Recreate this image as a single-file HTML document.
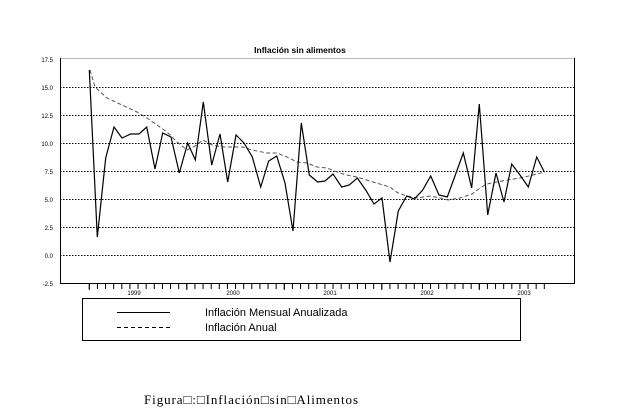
<!DOCTYPE html>
<html><head><meta charset="utf-8"><style>
html,body{margin:0;padding:0;background:#fff;}
</style></head><body>
<svg width="636" height="413" xmlns="http://www.w3.org/2000/svg" style="display:block">
<rect width="636" height="413" fill="#fff"/>
<text x="300" y="53" font-family="Liberation Sans, sans-serif" font-size="8.5" font-weight="bold" text-anchor="middle">Inflación sin alimentos</text>
<g stroke="#000" stroke-width="1" stroke-dasharray="1.5,1.5">
<line x1="60" y1="87.5" x2="574" y2="87.5"/>
<line x1="60" y1="115.5" x2="574" y2="115.5"/>
<line x1="60" y1="143.5" x2="574" y2="143.5"/>
<line x1="60" y1="171.5" x2="574" y2="171.5"/>
<line x1="60" y1="199.5" x2="574" y2="199.5"/>
<line x1="60" y1="227.5" x2="574" y2="227.5"/>
<line x1="60" y1="255.5" x2="574" y2="255.5"/>
</g>
<line x1="60" y1="58.5" x2="574" y2="58.5" stroke="#bbb"/>
<polyline fill="none" stroke="#000" stroke-width="1" points="60.5,58 60.5,283.5 574.5,283.5 574.5,58"/>
<g font-family="Liberation Sans, sans-serif" font-size="6" text-anchor="end">
<text x="53" y="62">17.5</text><text x="53" y="90">15.0</text><text x="53" y="118">12.5</text><text x="53" y="146">10.0</text><text x="53" y="174">7.5</text><text x="53" y="202">5.0</text><text x="53" y="230">2.5</text><text x="53" y="258">0.0</text><text x="53" y="286">-2.5</text>
</g>
<line x1="88.8" y1="286.5" x2="546" y2="286.5" stroke="#000" stroke-width="5" stroke-dasharray="1,7.125"/>
<line x1="88.8" y1="287" x2="546" y2="287" stroke="#000" stroke-width="6" stroke-dasharray="1,96.5"/>
<g font-family="Liberation Sans, sans-serif" font-size="6" text-anchor="middle">
<text x="134" y="295">1999</text><text x="233" y="295">2000</text><text x="330" y="295">2001</text><text x="427" y="295">2002</text><text x="524" y="295">2003</text>
</g>
<polyline fill="none" stroke="#555" stroke-width="1" stroke-dasharray="4,2.5" points="90,70 95,87 107,98 122,105 137,112 147,118 157,125 167,132 177,142 187,150 195,146 203,140 212,145 222,147 235,147 243,147 252,150 267,153 277,153 287,157 297,162 307,163 317,167 327,168 340,173 347,175 357,177 373,182 390,187 398,193 407,196 417,198 430,196 440,198 448,200 460,198 472,194 480,188 487,184 497,182 507,180 520,178 533,175 545,172"/>
<polyline fill="none" stroke="#000" stroke-width="1.2" points="89.3,70 97.3,237 105.7,158 114,127 122,138 130.7,134 139,134 146.7,127 155,169 162.7,133 171,137 179.3,173 187.7,143 195.3,160 203.3,102 211.7,165 220,134 227.7,182 236,135 244,143 252.3,157 260.7,187 268.7,161 276.7,156 285,183 293,231 301.3,123 309.3,175 317.7,182 325,181 333,174 341.7,187 349.3,185 357.3,178 365.7,190 374,204 382,198 390,262 398.3,211 406.7,196 414.3,199 422.7,190 430.7,176 439,195 447.3,197 455.3,175 463.3,153 471.7,188 479.3,104 487.7,215 496,173 504,202 511.7,164 520,175 528.3,187 536.7,157 544.3,172"/>
<rect x="82.5" y="298.5" width="438" height="42" fill="none" stroke="#000"/>
<line x1="117" y1="312.5" x2="170" y2="312.5" stroke="#000"/>
<line x1="117" y1="327.5" x2="170" y2="327.5" stroke="#000" stroke-dasharray="4,3"/>
<g font-family="Liberation Sans, sans-serif" font-size="11">
<text x="205" y="316">Inflación Mensual Anualizada</text>
<text x="205" y="331">Inflación Anual</text>
</g>
<text x="144" y="404" font-family="Liberation Serif, serif" font-size="13" textLength="214" lengthAdjust="spacing">Figura□:□Inflación□sin□Alimentos</text>
</svg>
</body></html>
